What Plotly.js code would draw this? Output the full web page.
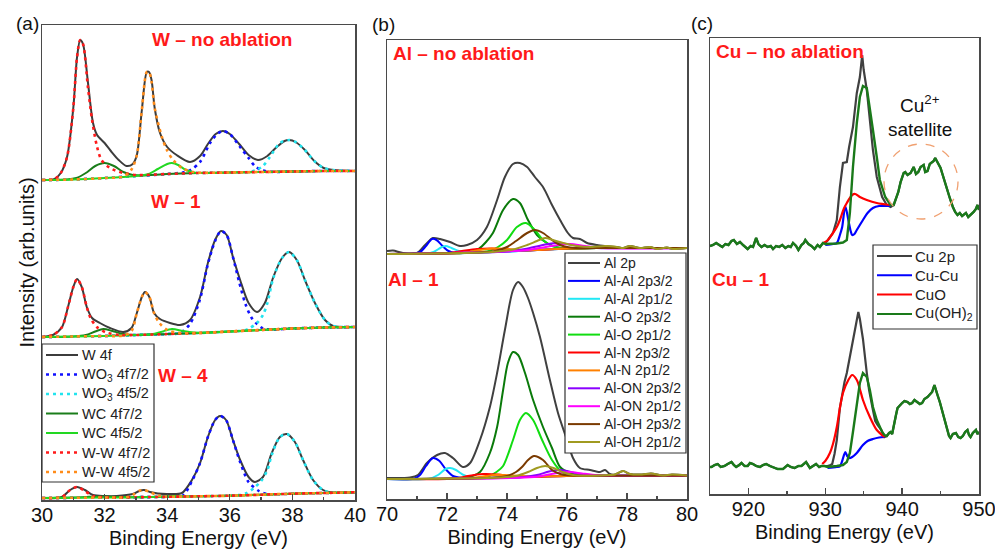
<!DOCTYPE html>
<html><head><meta charset="utf-8">
<script src="https://cdn.plot.ly/plotly-3.0.1.min.js"></script>
<style>html,body{margin:0;padding:0;background:#fff}#chart{width:995px;height:550px}</style>
</head><body><div id="chart"></div>
<script>
// ---------------- Panel (a): W 4f ----------------
const wNames = ['W 4f','WO<sub>3</sub> 4f7/2','WO<sub>3</sub> 4f5/2','WC 4f7/2','WC 4f5/2','W-W 4f7/2','W-W 4f5/2'];
// W - no ablation
const wNA_W4f = [[30,320],[30.4,321],[30.6,327],[30.8,343],[31.0,392],[31.12,443],[31.22,460],[31.31,456],[31.47,417],[31.63,377],[31.76,365],[32.0,357],[32.2,349],[32.45,340],[32.7,334],[32.9,336],[33.03,345],[33.19,390],[33.35,428],[33.42,428],[33.5,420],[33.6,392],[33.77,367],[34.0,353],[34.3,345],[34.73,338],[35.05,344],[35.3,356],[35.55,366],[35.78,369],[36.0,366],[36.3,356],[36.6,345],[36.9,340],[37.2,344],[37.5,353],[37.75,359],[37.9,360],[38.1,358],[38.4,350],[38.7,339],[39.0,332],[39.3,330],[40,329]];
const wNA_WO3a = [[30,320],[31,320.5],[32,322],[33,324],[34,326],[34.5,327.5],[34.75,330],[35.05,338],[35.37,357],[35.6,366],[35.78,369],[36.0,366],[36.33,353],[36.6,342],[36.8,334],[37.0,330],[37.3,328.2],[38,328.5],[39,329],[40,329]];
const wNA_WO3b = [[30,320],[31,320.5],[32,322],[33,324],[34,326],[35,327],[36,327.5],[36.6,328],[36.85,330],[37.06,334],[37.28,343],[37.6,357],[37.9,360],[38.1,358],[38.4,350],[38.7,339],[39.0,332],[39.3,330],[40,329]];
const wNA_WCa = [[30,320],[30.8,320.4],[31.1,322],[31.4,327],[31.7,334],[32.0,337],[32.3,334],[32.6,328],[32.9,325],[33.2,324.5],[34,326],[35,327],[36,327.5],[37,328],[38,328.5],[39,329],[40,329]];
const wNA_WCb = [[30,320],[31,320.5],[32,322],[33,324],[33.4,326],[33.7,331],[34.0,336],[34.15,337],[34.35,335],[34.6,330],[34.9,327.3],[35.2,327],[36,327.5],[37,328],[38,328.5],[39,329],[40,329]];
const wNA_WWa = [[30,320],[30.4,321],[30.6,327],[30.8,343],[31.0,392],[31.12,443],[31.22,460],[31.31,456],[31.47,412],[31.6,380],[31.76,353],[31.9,340],[32.17,332],[32.6,327],[33,325],[34,326],[35,327],[36,327.5],[37,328],[38,328.5],[39,329],[40,329]];
const wNA_WWb = [[30,320],[31,320.5],[32,322],[32.6,323.5],[32.85,330],[33.03,345],[33.19,390],[33.35,428],[33.42,428],[33.5,418],[33.6,392],[33.83,363],[33.99,350],[34.19,340],[34.47,332],[34.82,328],[35.2,327.2],[36,327.5],[37,328],[38,328.5],[39,329],[40,329]];
// W - 1
const w1_W4f = [[30,163],[30.35,165],[30.64,173],[30.83,193],[31.0,213],[31.12,221],[31.27,213],[31.43,193],[31.6,182],[31.85,177],[32.17,172],[32.6,168],[32.86,172],[33.03,187],[33.19,203],[33.29,208],[33.43,203],[33.58,187],[33.77,181],[34.09,177],[34.41,175],[34.73,180],[35.05,203],[35.3,237],[35.53,260],[35.72,269],[35.9,265],[36.1,243],[36.33,220],[36.6,197],[36.87,188],[37.12,197],[37.39,223],[37.67,242],[37.89,248],[38.14,240],[38.4,220],[38.72,197],[39.04,180],[39.3,174],[40,173]];
const w1_WO3a = [[30,163],[31,163.5],[32,164],[33,165],[34,166],[34.4,167],[34.73,176],[35.05,201],[35.3,236],[35.53,259],[35.72,269],[35.9,265],[36.1,243],[36.3,218],[36.5,196],[36.7,182],[36.87,176],[37.06,171.5],[37.3,170.5],[38,171.5],[39,172.5],[40,173]];
const w1_WO3b = [[30,163],[31,163.5],[32,164],[33,165],[34,166],[35,167],[36,168.5],[36.45,169.5],[36.64,172],[36.87,177],[37.06,185],[37.2,197],[37.39,222],[37.67,242],[37.89,248],[38.14,240],[38.4,220],[38.72,197],[39.04,180],[39.3,174],[40,173]];
const w1_WCa = [[30,163],[31,163.5],[31.4,165],[31.7,168.5],[31.96,171],[32.25,169],[32.6,166],[33,165],[34,166],[35,167],[36,168.5],[37,170],[38,171.5],[39,172.5],[40,173]];
const w1_WCb = [[30,163],[31,163.5],[32,164],[33,165],[33.5,165.8],[33.8,168],[34.15,171],[34.5,169],[34.85,167.5],[35.2,167.3],[36,168.5],[37,170],[38,171.5],[39,172.5],[40,173]];
const w1_WWa = [[30,163],[30.35,165],[30.64,173],[30.83,193],[31.0,213],[31.12,221],[31.27,213],[31.43,193],[31.55,182],[31.75,173],[32.05,167.5],[32.5,165],[33,165],[34,166],[35,167],[36,168.5],[37,170],[38,171.5],[39,172.5],[40,173]];
const w1_WWb = [[30,163],[31,163.5],[32,164],[32.6,164.5],[32.86,169],[33.03,187],[33.19,203],[33.29,208],[33.43,203],[33.58,187],[33.75,177],[34.0,170],[34.4,167],[35,167],[36,168.5],[37,170],[38,171.5],[39,172.5],[40,173]];
// W - 4
const w4_W4f = [[30,2],[30.63,3],[30.9,10],[31.12,13],[31.37,10],[31.63,5],[32.0,4],[32.39,4],[32.9,6],[33.1,9],[33.26,10],[33.45,8],[33.7,6.5],[34.0,6],[34.47,7],[34.79,20],[35.05,37],[35.3,63],[35.53,80],[35.69,84],[35.88,80],[36.1,60],[36.33,40],[36.6,23],[36.8,18],[37.06,23],[37.34,47],[37.6,63],[37.83,66],[38.08,58],[38.34,40],[38.66,20],[38.98,10],[39.3,7.5],[40,7.7]];
const w4_WO3a = [[30,2],[31,2.2],[32,2.5],[33,2.8],[34,3.2],[34.5,4.5],[34.79,19],[35.05,37],[35.3,63],[35.53,80],[35.69,84],[35.88,80],[36.1,60],[36.33,38],[36.6,18],[36.93,9],[37.2,6],[37.6,5.8],[38,6.3],[39,7],[40,7.7]];
const w4_WO3b = [[30,2],[31,2.2],[32,2.5],[33,2.8],[34,3.2],[35,3.7],[36,4.3],[36.3,5],[36.55,7],[36.77,12],[37.0,19],[37.2,30],[37.34,45],[37.6,63],[37.83,66],[38.08,58],[38.34,40],[38.66,20],[38.98,10],[39.3,7.5],[40,7.7]];
const w4_WCa = [[30,2],[31,2.4],[31.5,3.2],[32,3.6],[32.5,3],[33,2.8],[34,3.2],[35,3.7],[36,4.3],[37,5.3],[38,6.3],[39,7],[40,7.7]];
const w4_WCb = [[30,2],[32,2.5],[33,2.8],[33.7,3.2],[34.15,4],[34.6,3.6],[35,3.7],[36,4.3],[37,5.3],[38,6.3],[39,7],[40,7.7]];
const w4_WWa = [[30,2],[30.63,3],[30.9,10],[31.12,13],[31.37,9],[31.63,4],[32.0,2.6],[33,2.8],[34,3.2],[35,3.7],[36,4.3],[37,5.3],[38,6.3],[39,7],[40,7.7]];
const w4_WWb = [[30,2],[31,2.2],[32,2.5],[32.7,2.8],[32.95,6],[33.1,9],[33.26,10],[33.45,8],[33.7,4.5],[34.0,3.3],[35,3.7],[36,4.3],[37,5.3],[38,6.3],[39,7],[40,7.7]];

// ---------------- Panel (b): Al 2p ----------------
const alNames = ['Al 2p','Al-Al 2p3/2','Al-Al 2p1/2','Al-O 2p3/2','Al-O 2p1/2','Al-N 2p3/2','Al-N 2p1/2','Al-ON 2p3/2','Al-ON 2p1/2','Al-OH 2p3/2','Al-OH 2p1/2'];
const alNA_tail = [[77.3,253],[77.67,252],[77.87,251],[78.1,253],[78.43,251],[78.77,252],[79.0,250],[79.33,251.5],[79.53,250],[80,251]];
const alNA_Al2p = [[70,248],[70.2,248.5],[70.53,246],[71.0,246],[71.27,254],[71.53,261],[71.77,260],[72.1,257],[72.43,253],[72.67,254],[73.0,259],[73.33,272],[73.67,299],[73.93,322],[74.2,335],[74.43,336],[74.67,332],[74.93,322],[75.2,312],[75.5,294],[75.77,279],[76.03,266],[76.2,261],[76.43,260],[76.67,256],[77.0,254]];
const alNA_AlAla = [[70,245],[70.8,245.2],[71.1,247],[71.3,253],[71.5,260],[71.65,259],[71.85,253],[72.05,248],[72.3,246],[73,246.5],[74,247.5],[75,249],[76,250.5],[77,251],[80,251]];
const alNA_AlAlb = [[70,245],[71.3,245.4],[71.55,247],[71.8,251.5],[71.95,253],[72.15,251],[72.4,248],[72.7,246.5],[74,247.5],[75,249],[76,250.5],[77,251],[80,251]];
const alNA_AlOa = [[70,245],[72,245.8],[72.7,246.5],[73.05,250],[73.3,257],[73.53,266],[73.87,289],[74.2,300],[74.43,296],[74.7,279],[75.0,264],[75.33,256],[75.7,251.5],[76.2,250.5],[77,251],[80,251]];
const alNA_AlOb = [[70,245],[73,246.5],[73.4,248],[73.7,252],[74.0,259],[74.33,272],[74.63,276],[74.93,269],[75.2,259],[75.5,253],[75.9,250.5],[76.5,250.8],[77,251],[80,251]];
const alNA_AlNa = [[70,245],[72,245.8],[72.5,248],[73.0,250],[73.5,250.5],[74.0,249.5],[74.5,248.5],[75,249],[76,250.5],[77,251],[80,251]];
const alNA_AlNb = [[70,245],[72.5,246],[73,248.5],[73.5,250.5],[74,250],[74.5,249],[75,249],[76,250.5],[77,251],[80,251]];
const alNA_AlONa = [[70,245],[74,247.5],[74.6,250],[75.2,254],[75.6,256],[76.0,255],[76.5,252.5],[77,251],[80,251]];
const alNA_AlONb = [[70,245],[74.5,248.5],[75,250.5],[75.6,253.5],[76.1,255],[76.6,253],[77.2,251],[80,251]];
const alNA_AlOHa = [[70,245],[73,246.5],[73.6,248],[74.0,252],[74.3,258],[74.67,266],[74.93,269],[75.2,266],[75.5,259],[75.77,254],[76.1,251.5],[76.6,250.8],[77,251],[80,251]];
const alNA_AlOHb = [[70,245],[73.5,247],[74.2,249.5],[74.67,254],[75.0,258],[75.27,261],[75.53,259],[75.87,256],[76.33,253],[76.8,252],[77.0,252.5]];
// Al - 1
const al1_tail = [[77.6,24.5],[77.87,28],[78.1,25],[78.5,24.5],[78.8,25.5],[79.2,23.5],[79.5,24.5],[80,23.5]];
const al1_Al2p = [[70,21],[70.77,21.5],[71.03,24],[71.33,36],[71.67,44],[71.93,46],[72.2,41],[72.53,32],[72.77,36],[73.1,59],[73.43,92],[73.67,126],[73.93,169],[74.2,209],[74.37,217],[74.53,212],[74.7,201],[74.87,186],[75.1,162],[75.43,119],[75.7,86],[76.0,59],[76.2,41],[76.43,31],[76.77,29],[77.1,27],[77.27,29],[77.43,25]];
const al1_AlAla = [[70,20],[70.9,20.3],[71.1,24],[71.3,33],[71.53,41],[71.75,38],[71.95,30],[72.2,23],[72.5,21],[73,21],[74,21.5],[75,22.3],[76,23],[77,23.3],[80,23.3]];
const al1_AlAlb = [[70,20],[71.4,20.3],[71.7,24],[71.95,30],[72.1,31],[72.3,29],[72.55,24],[72.8,21.5],[73,21],[74,21.5],[75,22.3],[76,23],[77,23.3],[80,23.3]];
const al1_AlOa = [[70,20],[72,20.5],[72.6,21.5],[72.85,23],[73.1,27],[73.43,46],[73.67,72],[73.87,109],[74.03,136],[74.2,147],[74.37,144],[74.6,126],[74.87,99],[75.2,72],[75.5,51],[75.77,32],[76.1,26],[76.5,23.5],[77,23.3],[80,23.3]];
const al1_AlOb = [[70,20],[73,21],[73.4,23],[73.65,27],[73.87,33],[74.2,59],[74.43,79],[74.63,86],[74.87,79],[75.17,59],[75.5,39],[75.83,27],[76.2,23.5],[77,23.3],[80,23.3]];
const al1_AlNa = [[70,20],[72.3,20.6],[72.7,23],[73.2,25],[73.7,24.5],[74.2,22.5],[74.8,22.3],[76,23],[80,23.3]];
const al1_AlNb = [[70,20],[72.8,21],[73.3,23],[73.7,24.3],[74.2,23.5],[74.8,22.5],[76,23],[80,23.3]];
const al1_AlONa = [[70,20],[74.5,21.8],[75.0,24],[75.4,27.5],[75.7,29],[76.0,28],[76.4,25],[76.9,23.5],[77.3,23.3],[80,23.3]];
const al1_AlONb = [[70,20],[74.9,22],[75.4,24.5],[75.8,26.5],[76.1,27],[76.5,25.5],[77,23.8],[77.4,23.3],[80,23.3]];
const al1_AlOHa = [[70,20],[73.5,21.3],[74.0,23],[74.3,27],[74.5,32],[74.7,39],[74.9,43],[75.2,39],[75.5,29],[75.77,25],[76.1,23.5],[77,23.3],[80,23.3]];
const al1_AlOHb = [[70,20],[73.8,21.5],[74.3,23],[74.7,27],[75.0,31],[75.27,33],[75.55,31],[75.85,27],[76.2,24],[76.6,23.3],[77.1,23.5],[77.43,24]];

// ---------------- Panel (c): Cu 2p ----------------
const cuNames = ['Cu 2p','Cu-Cu','CuO','Cu(OH)<sub>2</sub>'];
// Cu - no ablation
const cuNA_left = [[915,248],[915.4,249],[915.8,251],[916.2,249],[916.6,247],[917,250],[917.4,249],[917.8,253],[918.1,254],[918.5,250],[918.9,252],[919.3,249],[919.6,247],[919.9,245],[920.3,248],[920.6,247],[921.0,256],[921.3,250],[921.7,247],[922.1,249],[922.5,247],[922.9,248],[923.2,245],[923.6,248],[924.0,247],[924.4,249],[924.8,246],[925.2,248],[925.5,247],[925.8,251],[926.2,248],[926.5,244],[926.9,249],[927.2,251],[927.4,254],[927.8,250],[928.2,248],[928.6,245],[929.0,249],[929.3,247],[929.7,251]];
const cuNA_sat = [[938.9,289],[939.2,295],[939.5,302],[939.8,312],[940.0,317],[940.2,321],[940.4,322],[940.7,319],[941.1,321],[941.3,325],[941.5,327],[941.8,320],[942.1,322],[942.4,327],[942.8,329],[943.0,322],[943.3,323],[943.6,330],[943.8,331],[944.1,333],[944.3,336],[944.5,333],[944.7,331],[945.0,326],[945.2,321],[945.5,313],[945.9,304],[946.2,296],[946.6,287],[946.9,282],[947.2,279],[947.5,281],[947.8,278],[948.0,279],[948.3,281],[948.6,277],[948.9,279],[949.3,282],[949.6,285],[949.8,289],[950,284]];
const cuNA_Cu2p = [[930.0,251],[930.35,254],[931.0,261],[931.5,274],[931.9,307],[932.3,331],[932.8,332],[933.1,347],[933.6,367],[934.1,401],[934.5,417],[934.8,439],[935.0,424],[935.4,404],[935.8,374],[936.2,344],[936.7,317],[937.4,297],[938.0,289],[938.5,287]];
const cuNA_CuCu = [[930.0,249],[931.0,250],[931.5,251],[931.9,259],[932.2,267],[932.6,288],[933.0,274],[933.3,263],[933.5,259],[933.8,260],[934.1,264],[934.9,274],[935.5,281],[936.2,286],[937.0,288],[938.5,288]];
const cuNA_CuO = [[929.7,251],[930.2,253],[931.0,261],[931.5,267],[931.9,274],[932.4,285],[932.8,291],[933.5,299],[933.9,300],[934.5,297],[935.4,294],[936.7,291],[938.5,289]];
const cuNA_CuOH = [[930.0,250],[931.5,250.5],[932.3,251.5],[932.8,254],[933.2,281],[933.6,327],[934.1,371],[934.5,397],[934.9,408],[935.4,406],[935.8,387],[936.2,364],[936.7,337],[937.1,314],[937.8,297],[938.5,289]];
// Cu - 1
const cu1_left = [[915,27],[915.2,27],[915.6,29],[916.0,30],[916.4,27],[916.9,28],[917.3,30],[917.8,32],[918.1,29],[918.4,27],[918.8,29],[919.1,31],[919.5,28],[919.9,28],[920.2,31],[920.6,30],[921.0,28],[921.5,27],[921.9,29],[922.3,30],[922.8,28],[923.2,27],[923.8,25],[924.5,25],[925.1,29],[925.5,27],[926.0,26],[926.5,28],[926.9,28],[927.2,30],[927.5,32],[928.0,26],[928.4,28],[928.8,30],[929.2,27],[929.5,28],[929.9,28]];
const cu1_sat = [[938.0,58],[938.3,61],[938.5,62],[938.7,60],[938.9,69],[939.2,79],[939.4,86],[939.7,89],[940.0,91],[940.3,93],[940.7,92],[941.0,90],[941.3,91],[941.6,94],[942.0,92],[942.3,90],[942.6,91],[942.9,95],[943.3,97],[943.6,99],[943.9,102],[944.2,109],[944.4,103],[944.6,99],[944.9,92],[945.2,84],[945.5,75],[945.8,66],[946.1,58],[946.3,56],[946.6,60],[947.0,61],[947.3,57],[947.6,56],[947.9,58],[948.2,62],[948.5,64],[948.7,59],[948.9,57],[949.2,61],[949.6,64],[949.8,60],[950,62]];
const cu1_Cu2p = [[930.3,28],[930.7,29],[930.9,30],[931.2,40],[931.5,54],[931.9,86],[932.2,101],[932.5,112],[932.8,121],[933.2,138],[933.6,154],[934.1,174],[934.3,182],[934.5,175],[934.9,155],[935.4,121],[935.7,104],[936.2,84],[936.5,73],[936.8,69],[937.0,67],[937.3,64],[937.7,57]];
const cu1_CuCu = [[930.3,26],[931.5,27],[931.9,27.5],[932.2,33],[932.6,42],[932.85,38],[933.1,36],[933.5,37],[934.1,41],[934.9,49],[935.5,53],[936.2,55],[937.0,56.5],[937.7,57]];
const cu1_CuO = [[929.6,30],[930.0,33],[930.6,41],[931.0,50],[931.5,67],[931.9,86],[932.3,101],[933.0,114],[933.5,119],[934.1,114],[934.5,105],[934.9,94],[935.8,77],[936.7,64],[937.7,57]];
const cu1_CuOH = [[930.3,27],[931.5,28],[932.3,29],[932.8,32],[933.2,41],[933.6,62],[934.1,87],[934.5,111],[934.9,121],[935.4,117],[935.8,104],[936.2,87],[936.7,74],[937.4,62],[937.7,59]];

// ---------------- styles ----------------
const wColors = ['#3c3c3c','#1010ff','#22e4ee','#1a7d1a','#22d822','#ff1a1a','#ff8c1a'];
const wDash = ['solid','3px,4px','3px,4px','solid','solid','3px,4px','3px,4px'];
const wWidth = [2,2.6,2.6,2,2,2.6,2.6];
const alColors = ['#404040','#0000ff','#22e8f5','#0a7a0a','#11dd11','#ff0000','#ff8000','#8a00ff','#ff00ff','#7a3a00','#a09a20'];
const cuColors = ['#404040','#0000ff','#ff0000','#1a7a1a'];

const FONT = 'Liberation Sans, Arial, Helvetica, sans-serif';
const W = 995, H = 550;
const px = v => v / W, py = v => 1 - v / H;
const unzip = p => ({x: p.map(d => d[0]), y: p.map(d => d[1])});

const traces = [];
function add(pairs, xa, ya, color, width, dash, shape) {
  const d = unzip(pairs);
  traces.push({x: d.x, y: d.y, xaxis: xa, yaxis: ya, type: 'scatter', mode: 'lines',
    line: {color: color, width: width, dash: dash || 'solid', shape: shape || 'spline', smoothing: 0.8},
    showlegend: false, hoverinfo: 'skip'});
}
// panel a
[[wNA_W4f,wNA_WO3a,wNA_WO3b,wNA_WCa,wNA_WCb,wNA_WWa,wNA_WWb],
 [w1_W4f,w1_WO3a,w1_WO3b,w1_WCa,w1_WCb,w1_WWa,w1_WWb],
 [w4_W4f,w4_WO3a,w4_WO3b,w4_WCa,w4_WCb,w4_WWa,w4_WWb]].forEach(set =>
  set.forEach((s, i) => add(s, 'x', 'y', wColors[i], wWidth[i], wDash[i])));
// panel b
[[alNA_Al2p.concat(alNA_tail),alNA_AlAla,alNA_AlAlb,alNA_AlOa,alNA_AlOb,alNA_AlNa,alNA_AlNb,alNA_AlONa,alNA_AlONb,alNA_AlOHa,alNA_AlOHb.concat(alNA_tail)],
 [al1_Al2p.concat(al1_tail),al1_AlAla,al1_AlAlb,al1_AlOa,al1_AlOb,al1_AlNa,al1_AlNb,al1_AlONa,al1_AlONb,al1_AlOHa,al1_AlOHb.concat(al1_tail)]].forEach(set =>
  set.forEach((s, i) => add(s, 'x2', 'y2', alColors[i], 2, 'solid')));
// panel c
[[cuNA_left.concat(cuNA_Cu2p, cuNA_sat), cuNA_CuCu, cuNA_CuO, cuNA_left.concat(cuNA_CuOH, cuNA_sat)],
 [cu1_left.concat(cu1_Cu2p, cu1_sat), cu1_CuCu, cu1_CuO, cu1_left.concat(cu1_CuOH, cu1_sat)]].forEach(set =>
  set.forEach((s, i) => add(s, 'x3', 'y3', cuColors[i], i === 3 ? 2.4 : 2.2, 'solid', (i === 0 || i === 3) ? 'linear' : 'spline')));

// ---------------- layout ----------------
const axLine = {showline: true, mirror: true, linecolor: '#4a4a4a', linewidth: 1.5, showgrid: false, zeroline: false};
function xAx(l, r, range, t0, dtick, minor) {
  return Object.assign({}, axLine, {domain: [px(l), px(r)], range: range, dtick: dtick, tick0: t0,
    ticks: 'inside', ticklen: 6, tickwidth: 1.3, tickcolor: '#4a4a4a',
    minor: {dtick: minor, tick0: t0, ticks: 'inside', ticklen: 3, tickcolor: '#4a4a4a'},
    tickfont: {family: FONT, size: 20, color: '#111'}, ticklabelstandoff: -4, ticklabeloverflow: 'allow',
    title: {text: 'Binding Energy (eV)', font: {family: FONT, size: 20, color: '#111'}, standoff: 6}});
}
function yAx(t, b, top, anchor) {
  return Object.assign({}, axLine, {domain: [py(b), py(t)], range: [0, top], showticklabels: false, ticks: '', anchor: anchor});
}
const layout = {
  width: W, height: H, margin: {l: 0, r: 0, t: 0, b: 0}, paper_bgcolor: '#fff', plot_bgcolor: '#fff',
  showlegend: false, font: {family: FONT},
  xaxis: Object.assign(xAx(42, 355, [30, 40], 30, 2, 1), {anchor: 'y'}),
  yaxis: Object.assign(yAx(25, 500, 475, 'x'), {title: {text: 'Intensity (arb.units)', font: {family: FONT, size: 20, color: '#111'}, standoff: 0}}),
  xaxis2: Object.assign(xAx(387, 687, [70, 80], 70, 2, 1), {anchor: 'y2'}),
  yaxis2: yAx(40, 499, 459, 'x2'),
  xaxis3: Object.assign(xAx(710, 979, [915, 950], 920, 10, 5), {anchor: 'y3'}),
  yaxis3: yAx(38, 494, 456, 'x3'),
  annotations: [], shapes: []
};
function note(text, x, y, size, color, bold, anchor) {
  layout.annotations.push({xref: 'paper', yref: 'paper', x: px(x), y: py(y), text: bold ? '<b>' + text + '</b>' : text,
    showarrow: false, xanchor: anchor || 'center', yanchor: 'middle', font: {family: FONT, size: size, color: color}});
}
note('(a)', 27, 23, 19, '#111');
note('(b)', 383, 24, 19, '#111');
note('(c)', 702, 23, 19, '#111');
note('W – no ablation', 222, 39, 19, '#ff1a1a', true);
note('W – 1', 176, 202, 19, '#ff1a1a', true);
note('W – 4', 183, 375, 19, '#ff1a1a', true);
note('Al – no ablation', 463, 54, 19, '#ff1a1a', true);
note('Al – 1', 413, 279, 19, '#ff1a1a', true);
note('Cu – no ablation', 790, 52, 19, '#ff1a1a', true);
note('Cu – 1', 740, 279, 19, '#ff1a1a', true);
note('Cu<sup>2+</sup>', 920, 104, 19, '#111');
note('satellite', 920, 130, 19, '#111');
layout.shapes.push({type: 'circle', xref: 'x3', yref: 'y3', x0: 937.64, x1: 947.27, y0: 275, y1: 350,
  line: {color: '#f0a070', width: 1.3, dash: 'dash'}});

// manual legends
function legend(box, names, colors, dashes, widths, x0, x1, tx, row0, step, fs) {
  layout.shapes.push({type: 'rect', xref: 'paper', yref: 'paper', x0: px(box[0]), x1: px(box[1]), y0: py(box[3]), y1: py(box[2]),
    line: {color: '#333', width: 1.2}, fillcolor: '#fff', layer: 'above'});
  names.forEach((n, i) => {
    const yy = row0 + i * step;
    layout.shapes.push({type: 'line', xref: 'paper', yref: 'paper', x0: px(x0), x1: px(x1), y0: py(yy), y1: py(yy),
      line: {color: colors[i], width: widths ? widths[i] : 2, dash: dashes ? dashes[i] : 'solid'}, layer: 'above'});
    note(n, tx, yy, fs, '#222', false, 'left');
  });
}
legend([42, 154, 344, 482], wNames, wColors, wDash, wWidth, 46, 78, 80, 355, 19.5, 14.5);
legend([565, 686, 253, 453], alNames, alColors, null, null, 568, 600, 602, 263, 17.9, 14);
legend([873, 977, 245, 329], cuNames, cuColors, null, null, 877, 912, 913, 256, 19.3, 15);

Plotly.newPlot('chart', traces, layout, {staticPlot: true, displayModeBar: false});
</script></body></html>
